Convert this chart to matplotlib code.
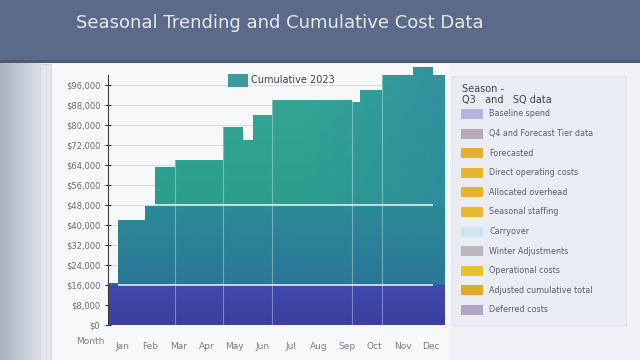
"""Seasonal cumulative cost chart with gradient step fill and side legend."""

import numpy as np
import matplotlib

matplotlib.use("Agg")
import matplotlib.pyplot as plt
from matplotlib.colors import to_rgb
from matplotlib.patches import Polygon, Rectangle

# --- data -------------------------------------------------------------------
week_edges = [0, 1.5, 5.7, 7.3, 10.3, 14.2, 17.7, 20.8, 22.4, 25.3, 34.0, 37.7, 38.9, 42.3, 47.1, 50.2, 52.0]
cum_cost = [16.8, 42, 48, 63, 66, 66, 79, 74, 84, 90, 90, 89, 94, 100, 103, 100]  # $ thousands
band_limits = [16, 48]
month_lines = [10.3, 17.7, 25.3, 37.7, 42.3]
y_ticks = list(range(0, 97, 8))
month_labels = ["Jan", "Feb", "Mar", "Apr", "May", "Jun", "Jul", "Aug", "Sep", "Oct", "Nov", "Dec"]

legend_labels = [
    "Baseline spend",
    "Q4 and Forecast Tier data",
    "Forecasted",
    "Direct operating costs",
    "Allocated overhead",
    "Seasonal staffing",
    "Carryover",
    "Winter Adjustments",
    "Operational costs",
    "Adjusted cumulative total",
    "Deferred costs",
]
legend_colors = [
    "#b6b4de", "#b4aab8", "#e2b12e", "#e6b630", "#e4b22c", "#e8b82e",
    "#cfe7f0", "#bdb4bc", "#e8c22c", "#e3a826", "#aea6c4",
]

W, H = 640, 360


def px(x, y):
    """Pixel position (from top-left) to figure fraction."""
    return x / W, 1 - y / H


fig = plt.figure(figsize=(6.4, 3.6), dpi=100)
fig.patch.set_facecolor("#f1f2f6")

# --- background -------------------------------------------------------------
bg = fig.add_axes([0, 0, 1, 1])
bg.set_xlim(0, W)
bg.set_ylim(H, 0)
bg.axis("off")

strip = np.linspace(0, 1, 64)[None, :]
left_rgb = np.array(to_rgb("#a9b3c4")) * (1 - strip[..., None]) + np.array(to_rgb("#dde0e8")) * strip[..., None]
bg.imshow(left_rgb, extent=[0, 42, H, 62], aspect="auto", zorder=0)
bg.add_patch(Rectangle((40, 64), 11, 296, facecolor="#e3e5ec", edgecolor="#d0d3dc", lw=0.6, zorder=1))
bg.add_patch(Rectangle((52, 64), 398, 296, facecolor="#f7f8fa", edgecolor="none", zorder=1))
bg.add_patch(Rectangle((0, 0), W, 62, facecolor="#5b6a89", edgecolor="none", zorder=2))
bg.add_patch(Rectangle((0, 60), W, 3, facecolor="#4c5a78", edgecolor="none", zorder=2))
bg.text(76, 23, "Seasonal Trending and Cumulative Cost Data", color="#e6eaf2",
        fontsize=13, va="center", ha="left", zorder=3)

# legend panel
bg.add_patch(Rectangle((452, 76), 174, 250, facecolor="#eaecf3", edgecolor="#e0e2ea", lw=0.6, zorder=1))
bg.text(462, 89, "Season -", fontsize=7, color="#3e4250", va="center", zorder=3)
bg.text(462, 100, "Q3   and   SQ data", fontsize=7, color="#3e4250", va="center", zorder=3)
for i, (label, color) in enumerate(zip(legend_labels, legend_colors)):
    yy = 114 + i * 19.6
    bg.add_patch(Rectangle((461, yy - 5), 22, 10, facecolor=color, edgecolor="none", zorder=3))
    bg.text(489, yy, label, fontsize=5.8, color="#5a5e6c", va="center", zorder=3)

# --- main chart -------------------------------------------------------------
x0, y1 = px(108, 325)
ax = fig.add_axes([x0, y1, 337 / W, 262.5 / H])
ax.set_facecolor("none")
ax.set_xlim(0, 52)
ax.set_ylim(0, 105)

edges = np.array(week_edges)
vals = np.array(cum_cost)
xs = np.repeat(edges, 2)[1:-1]
ys = np.repeat(vals, 2)
verts = [(edges[0], 0)] + list(zip(xs, ys)) + [(edges[-1], 0)]
poly = Polygon(verts, closed=True, facecolor="none", edgecolor="none")
ax.add_patch(poly)

# gradient fill, banded at the threshold values
yy = np.linspace(0, 105, 420)
xx = np.linspace(0, 52, 200)
stops_y = [0, 15.9, 16.1, 47.9, 48.1, 105]
stops_c = ["#3a3f9c", "#4149ad", "#2a7698", "#2a8c96", "#2a9d8d", "#38a896"]
cols = np.array([to_rgb(c) for c in stops_c])
vert = np.stack([np.interp(yy, stops_y, cols[:, k]) for k in range(3)], axis=-1)
img = np.repeat(vert[:, None, :], len(xx), axis=1)
blue_top = np.array(to_rgb("#2f88a2"))
t = np.clip((xx - 30) / 22, 0, 1)[None, :, None] * 0.7 * (yy >= 48)[:, None, None]
img = img * (1 - t) + blue_top * t
im = ax.imshow(img, extent=[0, 52, 0, 105], origin="lower", aspect="auto", zorder=2)
im.set_clip_path(poly)

hl = ax.hlines(band_limits, edges[1], edges[-2], colors="white", lw=1.2, alpha=0.85, zorder=3)
hl.set_clip_path(poly)
vl = ax.vlines(month_lines, 0, 105, colors="white", lw=0.8, alpha=0.35, zorder=3)
vl.set_clip_path(poly)

ax.set_yticks(y_ticks)
ax.set_yticklabels([f"${v * 1000:,.0f}" for v in y_ticks])
ax.yaxis.grid(True, color="#d9dce3", lw=0.8, zorder=0)
ax.set_axisbelow(True)

month_pos = np.arange(12) * 52 / 12 + 52 / 24
ax.set_xticks(month_pos)
ax.set_xticklabels(month_labels)

for side in ("top", "right", "bottom"):
    ax.spines[side].set_visible(False)
ax.spines["left"].set_bounds(0, 100)
ax.spines["left"].set_color("#3a3a3e")
ax.tick_params(axis="y", direction="inout", length=4, color="#3a3a3e", labelsize=6, labelcolor="#6a6d78")
ax.tick_params(axis="x", length=0, labelsize=6.5, labelcolor="#7a7d88", pad=12)

# inline legend swatch
ax.add_patch(Rectangle((0.356, 0.905), 0.06, 0.053, transform=ax.transAxes,
                       facecolor="#3a9a9c", edgecolor="none", zorder=4))
ax.text(0.425, 0.932, "Cumulative 2023", transform=ax.transAxes, fontsize=7,
        color="#3e4250", va="center", zorder=4)

bg.text(90, 342, "Month", fontsize=6.5, color="#7a7d88", ha="center", va="center", zorder=3)

fig.savefig("out.png", dpi=100)
